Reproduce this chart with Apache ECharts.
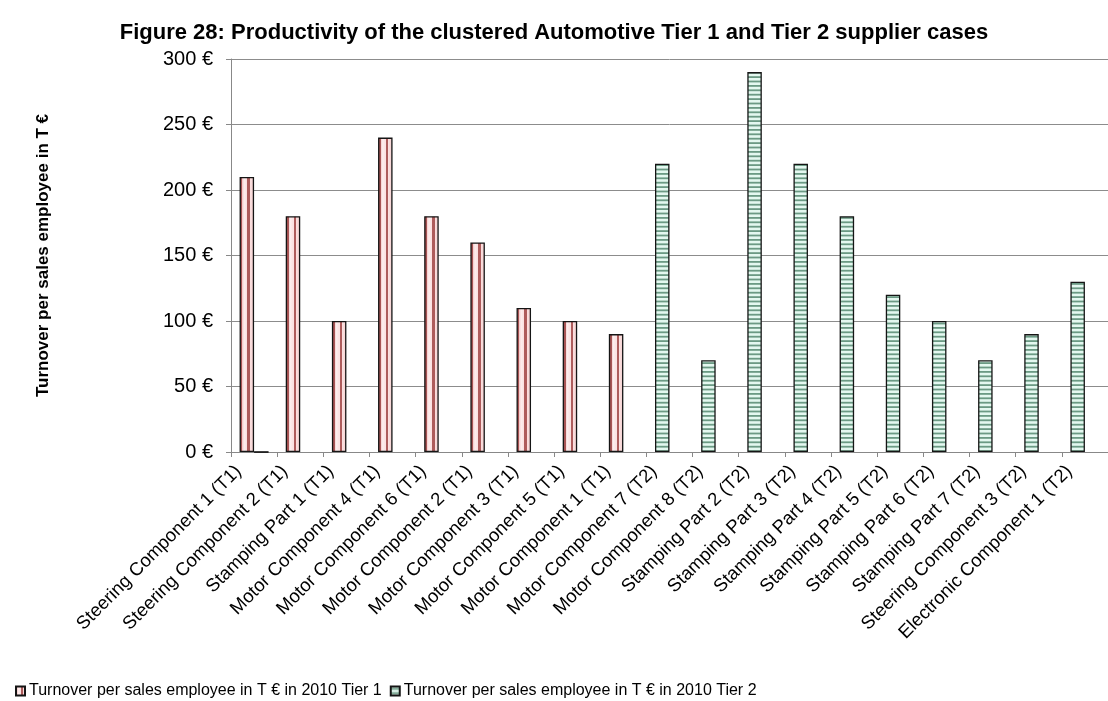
<!DOCTYPE html>
<html>
<head>
<meta charset="utf-8">
<title>Productivity of the clustered Automotive Tier 1 and Tier 2 supplier cases</title>
<script src="https://cdn.jsdelivr.net/npm/echarts@6/dist/echarts.min.js"></script>
<style>
  html, body { margin: 0; padding: 0; background: #ffffff; }
  #chart { width: 1108px; height: 701px; }
</style>
</head>
<body>
<div id="chart"></div>
<script>
// Supplier cases, in the order they are plotted
const categories = [
  'Steering Component 1 (T1)', 'Steering Component 2 (T1)', 'Stamping Part 1 (T1)',
  'Motor Component 4 (T1)', 'Motor Component 6 (T1)', 'Motor Component 2 (T1)',
  'Motor Component 3 (T1)', 'Motor Component 5 (T1)', 'Motor Component 1 (T1)',
  'Motor Component 7 (T2)', 'Motor Component 8 (T2)', 'Stamping Part 2 (T2)',
  'Stamping Part 3 (T2)', 'Stamping Part 4 (T2)', 'Stamping Part 5 (T2)',
  'Stamping Part 6 (T2)', 'Stamping Part 7 (T2)', 'Steering Component 3 (T2)',
  'Electronic Component 1 (T2)'
];

// Turnover per sales employee in T€ (2010)
const tier1Values = [210, 180, 100, 240, 180, 160, 110, 100, 90,
  null, null, null, null, null, null, null, null, null, null];
const tier2Values = [null, null, null, null, null, null, null, null, null,
  220, 70, 290, 220, 180, 120, 100, 70, 90, 130];
// second column of the table: only the first case carries an (empty) entry
const secondColumnValues = [0, null, null, null, null, null, null, null, null,
  null, null, null, null, null, null, null, null, null, null];

const seriesNames = [
  'Turnover per sales employee in T \u20ac in 2010 Tier 1',
  'Turnover per sales employee in T \u20ac in 2010 Tier 2'
];
const titleText = 'Figure 28: Productivity of the clustered Automotive Tier 1 and Tier 2 supplier cases';
const yAxisTitle = 'Turnover per sales employee in T \u20ac';
const yMin = 0, yMax = 300, yStep = 50;

const FONT = '"Liberation Sans", Arial, sans-serif';

// vertical red/pink stripes for Tier 1 bars (relative to each bar)
const tier1Fill = {
  type: 'linear', x: 0, y: 0, x2: 1, y2: 0,
  colorStops: [
    { offset: 0.00, color: '#a85454' }, { offset: 0.20, color: '#a85454' },
    { offset: 0.20, color: '#f5cccc' }, { offset: 0.32, color: '#fdeeee' },
    { offset: 0.48, color: '#fbe2e2' }, { offset: 0.54, color: '#fbe2e2' },
    { offset: 0.54, color: '#ae5c5c' }, { offset: 0.72, color: '#ae5c5c' },
    { offset: 0.72, color: '#fbe0e0' }, { offset: 1.00, color: '#f4d0d0' }
  ]
};

// horizontal green stripes for Tier 2 bars
function makeStripeCanvas() {
  const c = document.createElement('canvas');
  c.width = 8; c.height = 22;
  const g = c.getContext('2d');
  g.fillStyle = '#e4f8f0';
  g.fillRect(0, 0, c.width, c.height);
  g.fillStyle = '#6b9a84';
  for (let i = 0; i < 5; i++) {
    g.fillRect(0, i * 4.4 + 1.4, c.width, 1.8);
  }
  return c;
}
const tier2Fill = { image: makeStripeCanvas(), repeat: 'repeat' };

const chart = echarts.init(document.getElementById('chart'), null, { renderer: 'canvas' });

const barBorder = { borderColor: '#151515', borderWidth: 1.3 };

chart.setOption({
  animation: false,
  backgroundColor: '#ffffff',
  textStyle: { fontFamily: FONT, color: '#000000' },
  title: {
    text: titleText,
    left: 'center',
    top: 17,
    textStyle: { fontFamily: FONT, fontSize: 22, fontWeight: 'bold', color: '#000000' }
  },
  legend: {
    data: seriesNames,
    left: 10,
    top: 678,
    itemWidth: 9,
    itemHeight: 9,
    itemGap: 8,
    icon: 'rect',
    textStyle: { fontFamily: FONT, fontSize: 16, color: '#000000', padding: [0, 0, 0, -1] }
  },
  grid: { left: 231, top: 59, bottom: 249, right: -6.5, containLabel: false },
  xAxis: {
    type: 'category',
    data: categories,
    axisLine: { lineStyle: { color: '#888888', width: 1 } },
    axisTick: { show: true, length: 5, lineStyle: { color: '#888888' } },
    axisLabel: {
      interval: 0,
      rotate: 45,
      margin: 1,
      padding: [0, 22, 0, 0],
      fontFamily: FONT,
      fontSize: 18.5,
      color: '#000000'
    },
    splitLine: { show: false }
  },
  yAxis: {
    type: 'value',
    min: yMin,
    max: yMax,
    interval: yStep,
    name: yAxisTitle,
    nameLocation: 'middle',
    nameRotate: 90,
    nameGap: 179,
    nameTextStyle: { fontFamily: FONT, fontSize: 17, fontWeight: 'bold', color: '#000000' },
    axisLine: { show: true, lineStyle: { color: '#888888', width: 1 } },
    axisTick: { show: true, length: 5, lineStyle: { color: '#888888' } },
    axisLabel: {
      formatter: '{value} \u20ac',
      margin: 18,
      fontFamily: FONT,
      fontSize: 20,
      color: '#000000'
    },
    splitLine: { show: true, lineStyle: { color: '#8c8c8c', width: 1 } }
  },
  series: [
    {
      name: seriesNames[0],
      type: 'bar',
      stack: 'cases',
      data: tier1Values,
      barWidth: 14.5,
      barGap: '0%',
      itemStyle: Object.assign({ color: tier1Fill }, barBorder)
    },
    {
      name: seriesNames[1],
      type: 'bar',
      stack: 'cases',
      data: tier2Values,
      barWidth: 14.5,
      barGap: '0%',
      itemStyle: Object.assign({ color: tier2Fill }, barBorder)
    },
    {
      name: 'secondColumn',
      type: 'bar',
      data: secondColumnValues,
      barWidth: 14.5,
      barGap: '0%',
      itemStyle: { color: tier2Fill, borderColor: '#000000', borderWidth: 1.5 }
    }
  ]
});
</script>
</body>
</html>
